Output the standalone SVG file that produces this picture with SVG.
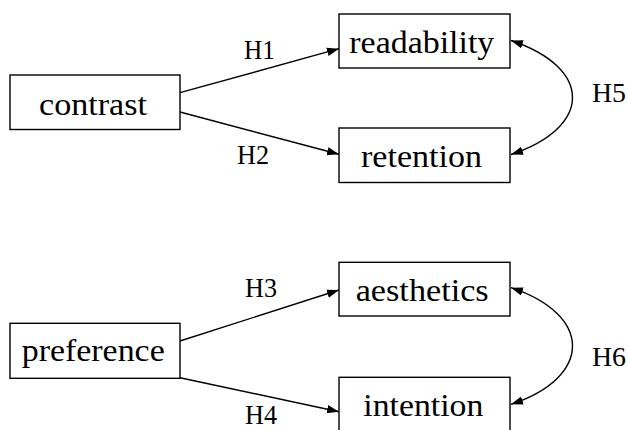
<svg xmlns="http://www.w3.org/2000/svg" width="628" height="430" viewBox="0 0 628 430">
<style>
.box{fill:#fff;stroke:#000;stroke-width:1.4}
.w{font-family:"Liberation Serif","Times New Roman",serif;font-size:32px;fill:#000}
.h{font-family:"Liberation Serif","Times New Roman",serif;font-size:28px;fill:#000}
.c{fill:none;stroke:#000;stroke-width:1.4}
</style>
<defs>
<marker id="ah" markerUnits="userSpaceOnUse" markerWidth="13" markerHeight="10" refX="12" refY="5" orient="auto-start-reverse" viewBox="0 0 13 10">
<path d="M0,0.8 L12,5 L0,9.2 z" fill="#000"/>
</marker>
</defs>
<rect width="628" height="430" fill="#fff"/>
<g id="connectors">
<line class="c" x1="180" y1="92.7" x2="339" y2="48.7" marker-end="url(#ah)"/>
<line class="c" x1="180" y1="112" x2="339" y2="154.3" marker-end="url(#ah)"/>
<line class="c" x1="180" y1="341" x2="339" y2="290" marker-end="url(#ah)"/>
<line class="c" x1="180" y1="377.7" x2="339" y2="411.7" marker-end="url(#ah)"/>
<path class="c" d="M511,40.5 C593,68 593,127 511,154.5" marker-start="url(#ah)" marker-end="url(#ah)"/>
<path class="c" d="M511,287.7 C593,315 593,377 511,404.3" marker-start="url(#ah)" marker-end="url(#ah)"/>
<text class="h" x="244" y="58.5" textLength="31" lengthAdjust="spacingAndGlyphs">H1</text>
<text class="h" x="237" y="164" textLength="32" lengthAdjust="spacingAndGlyphs">H2</text>
<text class="h" x="245" y="296.5" textLength="32" lengthAdjust="spacingAndGlyphs">H3</text>
<text class="h" x="245" y="424" textLength="32" lengthAdjust="spacingAndGlyphs">H4</text>
<text class="h" x="592" y="101.5" textLength="34" lengthAdjust="spacingAndGlyphs">H5</text>
<text class="h" x="592" y="365.5" textLength="34" lengthAdjust="spacingAndGlyphs">H6</text>
</g>
<g id="contrast">
<rect class="box" x="10" y="75" width="170" height="54.5"/>
<text class="w" x="39" y="115" textLength="108" lengthAdjust="spacingAndGlyphs">contrast</text>
</g>
<g id="readability">
<rect class="box" x="339" y="14" width="171" height="54"/>
<text class="w" x="349.3" y="52.5" textLength="145" lengthAdjust="spacingAndGlyphs">readability</text>
</g>
<g id="retention">
<rect class="box" x="339" y="128" width="171" height="54.5"/>
<text class="w" x="361" y="166.5" textLength="121" lengthAdjust="spacingAndGlyphs">retention</text>
</g>
<g id="preference">
<rect class="box" x="10" y="323.3" width="170" height="55"/>
<text class="w" x="21.7" y="360.5" textLength="143" lengthAdjust="spacingAndGlyphs">preference</text>
</g>
<g id="aesthetics">
<rect class="box" x="339" y="262.3" width="171" height="53.7"/>
<text class="w" x="355.7" y="301" textLength="133" lengthAdjust="spacingAndGlyphs">aesthetics</text>
</g>
<g id="intention">
<rect class="box" x="339" y="377.3" width="171" height="54"/>
<text class="w" x="363.3" y="415.5" textLength="120" lengthAdjust="spacingAndGlyphs">intention</text>
</g>
</svg>
